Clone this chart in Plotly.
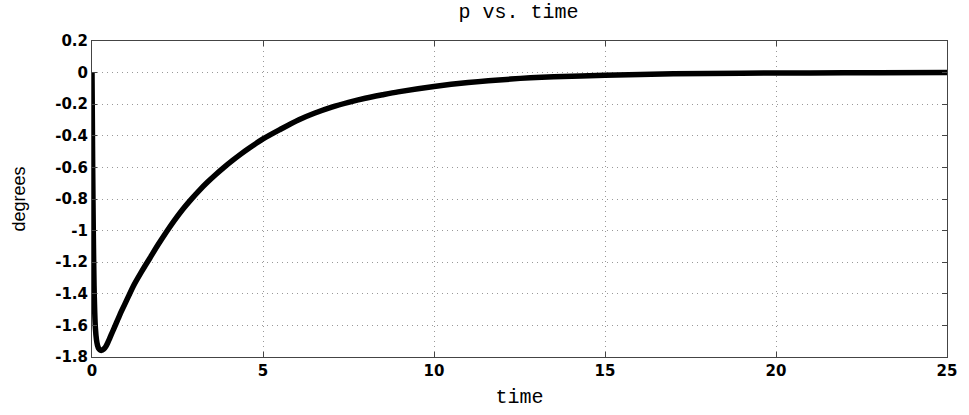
import plotly.graph_objects as go

time = [0, 0.01, 0.02, 0.04, 0.06, 0.08, 0.1, 0.13, 0.16, 0.2, 0.24, 0.28, 0.34, 0.4, 0.46,
        0.52, 0.6, 0.7, 0.82, 0.95, 1.08, 1.2, 1.45, 1.69, 1.93, 2.17, 2.41, 2.65, 2.9,
        3.14, 3.38, 3.62, 3.86, 4.11, 4.35, 4.59, 5.0, 5.5, 6.05, 6.5, 7.01, 7.5, 7.99,
        8.5, 8.95, 10.0, 11.0, 12.25, 13.5, 15.0, 17.0, 19.0, 21.0, 23.0, 25.0]
p_deg = [0, -0.3, -0.6, -1.05, -1.35, -1.52, -1.62, -1.69, -1.725, -1.748, -1.756, -1.758,
         -1.75, -1.735, -1.71, -1.68, -1.64, -1.59, -1.53, -1.47, -1.41, -1.355, -1.26,
         -1.175, -1.09, -1.01, -0.935, -0.866, -0.802, -0.745, -0.693, -0.645, -0.60,
         -0.556, -0.516, -0.479, -0.42, -0.36, -0.298, -0.257, -0.218, -0.188, -0.162,
         -0.14, -0.122, -0.088, -0.063, -0.041, -0.027, -0.017, -0.008, -0.004, -0.002,
         -0.001, 0.0]

x_ticks = [0, 5, 10, 15, 20, 25]
y_ticks = [0.2, 0, -0.2, -0.4, -0.6, -0.8, -1, -1.2, -1.4, -1.6, -1.8]

fig = go.Figure()
fig.add_trace(go.Scatter(x=time, y=p_deg, mode="lines",
                         line=dict(color="black", width=5.5, shape="spline", smoothing=0.8),
                         showlegend=False))

tickfont = dict(family="DejaVu Sans", size=15, color="black", weight="bold")
axis_common = dict(showline=True, linecolor="#444", linewidth=1, mirror="allticks",
                   ticks="inside", ticklen=5, tickcolor="#444",
                   showgrid=True, gridcolor="#999", griddash="1px,4px", gridwidth=1,
                   zeroline=False, tickfont=tickfont)

fig.update_layout(
    width=969, height=415,
    margin=dict(l=92, r=17, t=41, b=46),
    paper_bgcolor="white", plot_bgcolor="white",
    title=dict(text="p vs. time", x=0.535, xanchor="center", y=0.99, yanchor="top",
               font=dict(family="Liberation Mono", size=20, color="black")),
    xaxis=dict(range=[0, 25], tickvals=x_ticks, ticktext=[str(v) for v in x_ticks],
               title=dict(text="time", standoff=9,
                          font=dict(family="Liberation Mono", size=20, color="black")),
               **axis_common),
    yaxis=dict(range=[-1.8, 0.2], tickvals=y_ticks, ticktext=[("%g" % v) for v in y_ticks],
               title=dict(text="degrees", standoff=24,
                          font=dict(family="Liberation Sans", size=18, color="black")),
               **axis_common),
)

fig.write_html("out.html")
